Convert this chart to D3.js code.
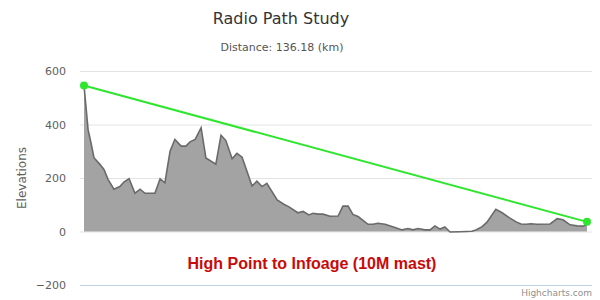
<!DOCTYPE html>
<html>
<head>
<meta charset="utf-8">
<script src="https://cdn.jsdelivr.net/npm/d3@7"></script>
<style>
  body { margin: 0; background: #fff; }
  svg { display: block; font-family: "Lucida Grande", "DejaVu Sans", sans-serif; }
</style>
</head>
<body>
<svg id="chart" width="600" height="300"></svg>
<script>
// Terrain profile: distance (km) and elevation (m)
const distances = [0, 1.1, 1.9, 2.7, 4.3, 5.4, 6.5, 8.1, 9.7, 10.8, 12.2, 13.8, 15.2, 16.5, 19.2, 20.6,
    21.9, 23.3, 24.6, 26.3, 27.6, 28.7, 30.1, 31.7, 33.0, 35.7, 37.1, 38.4, 40.1, 41.4, 42.8, 45.5,
    46.8, 48.2, 49.5, 52.3, 54.1, 55.5, 57.9, 59.3, 60.9, 62.0, 63.4, 64.7, 66.6, 68.8, 70.1, 71.5,
    72.8, 74.2, 76.9, 78.2, 79.6, 81.5, 84.2, 86.1, 87.7, 89.1, 90.4, 92.3, 93.7, 95.0, 96.4, 97.7,
    99.1, 101.8, 105.0, 106.1, 107.8, 109.1, 111.5, 113.2, 115.1, 117.0, 118.3, 119.7, 121.0, 122.6,
    126.2, 128.1, 129.7, 131.6, 133.5, 135.1, 136.18];
const elevations = [546, 381, 331, 276, 251, 232, 195, 158, 168, 185, 197, 143, 158, 143, 143, 197,
    182, 300, 344, 319, 319, 335, 344, 388, 275, 252, 360, 340, 272, 292, 278, 170,
    188, 168, 180, 118, 102, 92, 70, 75, 62, 68, 65, 65, 57, 58, 95, 95,
    64, 56, 27, 27, 31, 27, 15, 6, 11, 6, 11, 6, 6, 21, 9, 17,
    -2, -1, 1, 6, 18, 35, 83, 70, 52, 36, 28, 27, 29, 27,
    28, 48, 44, 25, 21, 20, 26];

// Line of sight between the two ends
const pathDistances = [0, 136.18];
const pathElevations = [546, 36];

const yTicks = [-200, 0, 200, 400, 600];

const titleText = "Radio Path Study";
const subtitleText = "Distance: 136.18 (km)";
const yAxisTitle = "Elevations";
const labelText = "High Point to Infoage (10M mast)";

const svg = d3.select("#chart");
const plot = { left: 80, right: 592, top: 71, bottom: 285 };

const xScale = d3.scaleLinear()
    .domain([0, 136.18])
    .range([84, 587]);

const yScale = d3.scaleLinear()
    .domain([-200, 600])
    .range([plot.bottom, plot.top]);

// Grid lines
svg.append("g")
    .selectAll("line")
    .data(yTicks)
    .enter()
    .append("line")
    .attr("x1", plot.left)
    .attr("x2", plot.right)
    .attr("y1", d => yScale(d) + 0.5)
    .attr("y2", d => yScale(d) + 0.5)
    .attr("stroke", d => d === -200 ? "#c0d0e0" : "#e3e3e3")
    .attr("stroke-width", 1);

// Y axis labels
svg.append("g")
    .selectAll("text")
    .data(yTicks)
    .enter()
    .append("text")
    .attr("x", 66)
    .attr("y", d => yScale(d) + 4)
    .attr("text-anchor", "end")
    .attr("font-size", "11px")
    .attr("fill", "#606060")
    .text(d => d < 0 ? "\u2212" + Math.abs(d) : d);

svg.append("text")
    .attr("transform", "translate(26,178) rotate(-90)")
    .attr("text-anchor", "middle")
    .attr("font-size", "12px")
    .attr("fill", "#606060")
    .text(yAxisTitle);

// Terrain area
const terrain = distances.map((d, i) => ({ x: d, y: elevations[i] }));

const area = d3.area()
    .x(d => xScale(d.x))
    .y0(yScale(0))
    .y1(d => yScale(d.y));

const line = d3.line()
    .x(d => xScale(d.x))
    .y(d => yScale(d.y));

svg.append("path")
    .datum(terrain)
    .attr("d", area)
    .attr("fill", "#a3a3a3");

svg.append("path")
    .datum(terrain)
    .attr("d", line)
    .attr("fill", "none")
    .attr("stroke", "#6a6a6a")
    .attr("stroke-width", 1.6);

// Line of sight
const sight = pathDistances.map((d, i) => ({ x: d, y: pathElevations[i] }));

svg.append("path")
    .datum(sight)
    .attr("d", line)
    .attr("fill", "none")
    .attr("stroke", "#2ee62e")
    .attr("stroke-width", 2);

svg.selectAll(".end-point")
    .data(sight)
    .enter()
    .append("circle")
    .attr("class", "end-point")
    .attr("cx", d => xScale(d.x))
    .attr("cy", d => yScale(d.y))
    .attr("r", 4)
    .attr("fill", "#2ee62e");

// Titles
svg.append("text")
    .attr("x", 281)
    .attr("y", 24)
    .attr("text-anchor", "middle")
    .attr("font-size", "16px")
    .attr("fill", "#333")
    .text(titleText);

svg.append("text")
    .attr("x", 282)
    .attr("y", 51)
    .attr("text-anchor", "middle")
    .attr("font-size", "11px")
    .attr("fill", "#555")
    .text(subtitleText);

svg.append("text")
    .attr("x", 312)
    .attr("y", 269)
    .attr("text-anchor", "middle")
    .attr("font-family", "'Liberation Sans', Arial, sans-serif")
    .attr("font-weight", "bold")
    .attr("font-size", "16px")
    .attr("fill", "#c80a0a")
    .text(labelText);

svg.append("text")
    .attr("x", 592)
    .attr("y", 296)
    .attr("text-anchor", "end")
    .attr("font-size", "9px")
    .attr("fill", "#909090")
    .text("Highcharts.com");
</script>
</body>
</html>
